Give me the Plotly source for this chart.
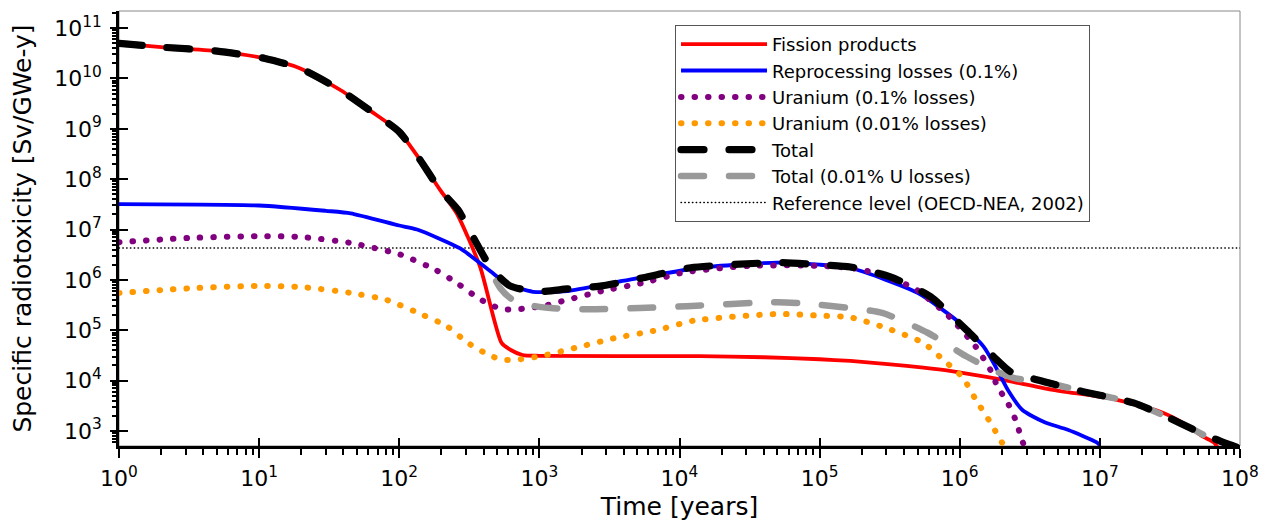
import plotly.graph_objects as go

# ---------------- data ----------------
fp_t = [1, 2, 5, 11, 19.5, 38, 62, 100, 141, 195, 257, 378, 537, 630, 760, 1000,
        1.4e4, 4e4, 1e5, 1.66e5, 3.2e5, 5.5e5, 8.5e5, 1.95e6, 4.5e6, 1.3e7, 2.7e7, 3.9e7, 5.5e7, 6.5e7, 7.2e7]
fp_y = [5.0e10, 4.2e10, 3.5e10, 2.5e10, 1.6e10, 5.9e9, 2.3e9, 8.7e8, 2.4e8, 6.2e7, 2.1e7, 1.8e6, 5.6e4, 4.0e4, 3.2e4, 3.1e4,
        3.05e4, 2.9e4, 2.65e4, 2.45e4, 2.1e4, 1.8e4, 1.55e4, 1.05e4, 6.6e3, 4.2e3, 2.4e3, 1.45e3, 7.6e2, 5.9e2, 4.0e2]

rep_t = [1, 10, 30, 45, 100, 134, 272, 445, 590, 900, 1580, 3600, 1.4e4, 5e4, 1e5, 1.74e5,
         5e5, 1e6, 1.48e6, 1.86e6, 2.2e6, 2.8e6, 4.0e6, 5.9e6, 9.5e6, 1e7]
rep_y = [3.2e7, 3.0e7, 2.35e7, 2.1e7, 1.2e7, 1.0e7, 4.2e6, 1.5e6, 8.3e5, 5.8e5, 6.0e5, 9.1e5, 1.74e6, 2.2e6, 2.0e6, 1.66e6,
         5.5e5, 1.4e5, 4.7e4, 1.6e4, 6.6e3, 2.6e3, 1.5e3, 1.05e3, 5.9e2, 5.2e2]

u1_t = [1, 3.2, 10, 20, 45, 101, 180, 257, 363, 447, 550, 690, 1050, 1580, 2800, 5500, 1.07e4,
        3.2e4, 1e5, 2.0e5, 4.7e5, 8.5e5, 1.3e6, 1.66e6, 1.86e6, 2.2e6, 2.5e6, 2.8e6, 3.0e6]
u1_y = [5.6e6, 6.8e6, 7.4e6, 7.1e6, 5.4e6, 3.2e6, 1.6e6, 8.7e5, 4.4e5, 3.2e5, 2.6e5, 2.6e5, 3.0e5, 4.0e5, 6.0e5, 8.7e5, 1.4e6,
        1.9e6, 1.9e6, 1.6e6, 6.9e5, 1.8e5, 4.7e4, 1.6e4, 7.6e3, 3.6e3, 1.66e3, 6.2e2, 4.0e2]

u01_t = [1, 3.2, 10, 20, 45, 81, 148, 219, 309, 447, 550, 690, 1050, 1950, 3550, 6900, 1.26e4,
         5e4, 1e5, 1.66e5, 3.0e5, 5.5e5, 7.6e5, 1.05e6, 1.3e6, 1.66e6, 2.0e6, 2.2e6]
u01_y = [5.5e5, 6.8e5, 7.6e5, 7.2e5, 5.5e5, 4.0e5, 2.0e5, 1.2e5, 5.6e4, 3.1e4, 2.6e4, 2.6e4, 3.1e4, 4.7e4, 7.1e4, 1.0e5, 1.55e5,
         2.1e5, 1.95e5, 1.8e5, 1.1e5, 5.6e4, 2.6e4, 1.15e4, 4.2e3, 1.45e3, 5.9e2, 4.0e2]

tot_t = [1, 2, 5, 11, 19.5, 38, 62, 100, 141, 195, 263, 355, 427, 500, 617, 955, 1580, 2800, 5500, 1.2e4,
         5e4, 1e5, 1.66e5, 3.2e5, 6.2e5, 1.12e6, 1.74e6, 2.3e6, 4.0e6, 7.6e6, 1.74e7, 3.0e7, 4.7e7, 7.6e7, 1e8]
tot_y = [5.0e10, 4.2e10, 3.5e10, 2.5e10, 1.6e10, 5.9e9, 2.3e9, 8.7e8, 2.4e8, 6.2e7, 2.45e7, 5.4e6, 2.2e6, 1.26e6, 7.6e5, 5.8e5, 6.6e5, 7.6e5, 1.1e6, 1.74e6,
         2.2e6, 2.0e6, 1.8e6, 1.15e6, 4.6e5, 1.0e5, 3.0e4, 1.5e4, 9.5e3, 6.0e3, 3.6e3, 1.9e3, 1.05e3, 5.9e2, 4.5e2]

tot01_t = [1, 2, 5, 11, 19.5, 38, 62, 100, 141, 195, 263, 355, 427, 525, 630, 930, 1200, 2300, 5200, 1.12e4,
           5e4, 1e5, 2.8e5, 5.9e5, 1.12e6, 1.74e6, 2.5e6, 4.0e6, 7.6e6, 1.74e7, 3.0e7, 4.7e7, 7.1e7, 8.5e7]
tot01_y = [5.0e10, 4.2e10, 3.5e10, 2.5e10, 1.6e10, 5.9e9, 2.3e9, 8.7e8, 2.4e8, 6.2e7, 2.45e7, 5.4e6, 2.0e6, 6.9e5, 4.2e5, 3.0e5, 2.75e5, 2.6e5, 2.75e5, 3.0e5,
           3.6e5, 3.2e5, 2.2e5, 8.9e4, 3.0e4, 1.6e4, 1.1e4, 9.5e3, 6.0e3, 3.6e3, 1.9e3, 1.05e3, 5.6e2, 4.0e2]

ref_t = [1, 1e8]
ref_y = [4.3e6, 4.3e6]

x_tick_exps = [0, 1, 2, 3, 4, 5, 6, 7, 8]
y_tick_exps = [3, 4, 5, 6, 7, 8, 9, 10, 11]

# ---------------- figure ----------------
FONT = "DejaVu Sans"
DOT = "0.5px,13px"
DASH = "23px,25px"

fig = go.Figure()

def add(t, y, name, color, width, dash="solid", rank=0, shape="spline"):
    fig.add_trace(go.Scatter(
        x=t, y=y, name=name, mode="lines",
        line=dict(color=color, width=width, dash=dash, shape=shape, smoothing=0.6),
        legendrank=rank, hoverinfo="skip"))

add(ref_t, ref_y, "Reference level (OECD-NEA, 2002)", "black", 1.4, "0.5px,3.3px", 7, "linear")
add(fp_t, fp_y, "Fission products", "#ff0000", 3.8, "solid", 1)
add(rep_t, rep_y, "Reprocessing losses (0.1%)", "#0000ff", 3.8, "solid", 2)
add(u1_t, u1_y, "Uranium (0.1% losses)", "#800080", 6, DOT, 3)
add(u01_t, u01_y, "Uranium (0.01% losses)", "#ff9900", 6, DOT, 4)
add(tot01_t, tot01_y, "Total (0.01% U losses)", "#999999", 6.5, DASH, 6)
add(tot_t, tot_y, "Total", "black", 7.2, DASH, 5)

# empty helper trace for the overlay axes that draw the inner tick marks
fig.add_trace(go.Scatter(x=[], y=[], xaxis="x2", yaxis="y2", showlegend=False, hoverinfo="skip"))

xvals = [10 ** e for e in x_tick_exps]
xtext = ["10<sup>%d</sup>" % e for e in x_tick_exps]
yvals = [10 ** e for e in y_tick_exps]
ytext = ["10<sup>%d</sup>" % e for e in y_tick_exps]
x_minor = [m * 10 ** e for e in range(0, 8) for m in range(2, 10)]
y_minor = [m * 10 ** e for e in range(2, 12) for m in range(2, 10)]

XR = [0, 8]
YR = [2.70, 11.34]

fig.update_layout(
    width=1267, height=523, autosize=False,
    margin=dict(l=119, r=27, t=11, b=77, autoexpand=False),
    paper_bgcolor="white", plot_bgcolor="white",
    font=dict(family=FONT, color="black", size=18),
    showlegend=True,
    legend=dict(x=0.496, y=0.968, xanchor="left", yanchor="top",
                bgcolor="white", bordercolor="#555555", borderwidth=1,
                font=dict(family=FONT, size=18), itemwidth=86,
                traceorder="normal"),
    xaxis=dict(type="log", range=XR, showgrid=False, zeroline=False, automargin=False,
               showline=True, linecolor="black", linewidth=2.5,
               tickmode="array", tickvals=xvals, ticktext=xtext,
               ticks="outside", ticklen=9, tickwidth=2, tickcolor="black",
               tickfont=dict(family=FONT, size=22), ticklabelstandoff=2,
               minor=dict(tickmode="array", tickvals=x_minor, ticks="outside",
                          ticklen=6, tickwidth=1.5, tickcolor="black"),
               title=dict(text="Time [years]", font=dict(family=FONT, size=25), standoff=8)),
    yaxis=dict(type="log", range=YR, showgrid=False, zeroline=False, automargin=False,
               showline=True, linecolor="black", linewidth=2.5,
               tickmode="array", tickvals=yvals, ticktext=ytext,
               ticks="outside", ticklen=6, tickwidth=2, tickcolor="black",
               tickfont=dict(family=FONT, size=22), ticklabelstandoff=4,
               minor=dict(tickmode="array", tickvals=y_minor, ticks="outside",
                          ticklen=4, tickwidth=1.5, tickcolor="black"),
               title=dict(text="Specific radiotoxicity [Sv/GWe-y]", font=dict(family=FONT, size=25), standoff=16)),
    xaxis2=dict(type="log", range=XR, overlaying="x", anchor="y", side="bottom", automargin=False,
                showgrid=False, zeroline=False, showline=False,
                tickmode="array", tickvals=xvals, ticks="inside", ticklen=8,
                tickwidth=2, tickcolor="black", showticklabels=False),
    yaxis2=dict(type="log", range=YR, overlaying="y", anchor="x", side="left", automargin=False,
                showgrid=False, zeroline=False, showline=False,
                tickmode="array", tickvals=yvals, ticks="inside", ticklen=9,
                tickwidth=2, tickcolor="black", showticklabels=False),
)

# thin grey frame (top / right spines)
fig.add_shape(type="rect", xref="x domain", yref="y domain", x0=0, x1=1, y0=0, y1=1,
              line=dict(color="#888888", width=1), layer="below")

post = """
var gd = document.getElementById('{plot_id}');
function roundCaps(){
  gd.querySelectorAll('path.js-line').forEach(function(p){
    var d = p.style.strokeDasharray || '';
    if (d.indexOf('px') >= 0) { p.style.strokeLinecap = 'round'; }
  });
}
roundCaps();
if (gd.on) { gd.on('plotly_afterplot', roundCaps); }
setTimeout(roundCaps, 50);
setTimeout(roundCaps, 300);
"""

fig.write_html("out.html", post_script=post)
